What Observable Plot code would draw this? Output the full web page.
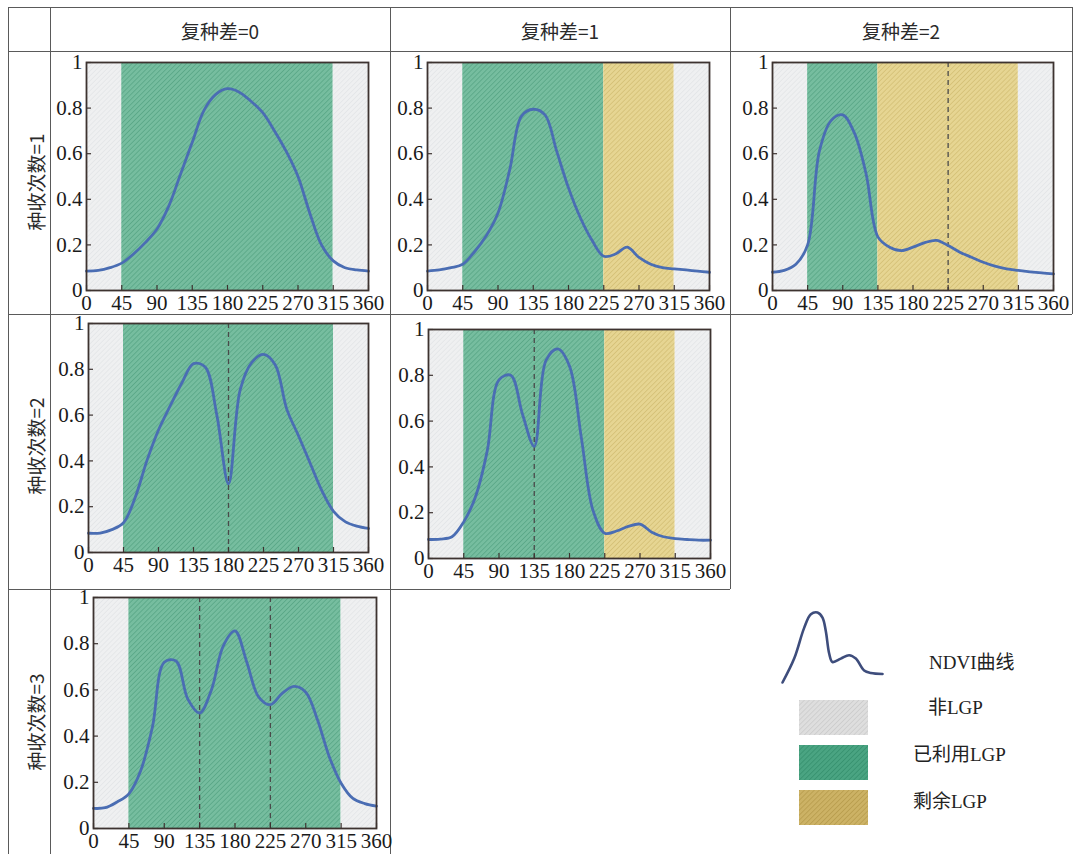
<!DOCTYPE html>
<html><head><meta charset="utf-8">
<script src="https://cdn.jsdelivr.net/npm/d3@7"></script>
<script src="https://cdn.jsdelivr.net/npm/@observablehq/plot@0.6"></script>
<style>
body{margin:0;background:#fff;}
#root{position:relative;width:1079px;height:854px;overflow:hidden;background:#fff;}
.hl,.vl{position:absolute;background:#5a5a5a;}
.hl{height:1px;} .vl{width:1px;}
.hdr{position:absolute;font-family:"Noto Sans CJK SC",sans-serif;font-size:19px;color:#2a2a2a;white-space:nowrap;transform:translate(-50%,-50%);}
.rowlab{position:absolute;font-family:"Noto Sans CJK SC",sans-serif;font-size:19px;color:#2a2a2a;white-space:nowrap;transform:translate(-50%,-50%) rotate(-90deg);}
.panel{position:absolute;}
.lg{position:absolute;font-family:"Liberation Serif","Noto Sans CJK SC",serif;font-size:19px;color:#222;white-space:nowrap;transform:translateY(-50%);}
.sw{position:absolute;width:69px;height:35px;}
</style></head><body>
<svg width="0" height="0" style="position:absolute">
<defs>
<pattern id="hatch-gray" width="3.5" height="3.5" patternUnits="userSpaceOnUse" patternTransform="rotate(45)">
<rect width="3.5" height="3.5" fill="#eff0f1"/><line x1="0" y1="0" x2="0" y2="3.5" stroke="#e0e2e4" stroke-width="1.2"/></pattern>
<pattern id="hatch-green" width="3.5" height="3.5" patternUnits="userSpaceOnUse" patternTransform="rotate(45)">
<rect width="3.5" height="3.5" fill="#76bd9f"/><line x1="0" y1="0" x2="0" y2="3.5" stroke="#4e9e7d" stroke-width="1.2"/></pattern>
<pattern id="hatch-yellow" width="3.5" height="3.5" patternUnits="userSpaceOnUse" patternTransform="rotate(45)">
<rect width="3.5" height="3.5" fill="#e6d592"/><line x1="0" y1="0" x2="0" y2="3.5" stroke="#cdb86c" stroke-width="1.2"/></pattern>
<pattern id="lg-gray" width="3.5" height="3.5" patternUnits="userSpaceOnUse" patternTransform="rotate(45)">
<rect width="3.5" height="3.5" fill="#dedede"/><line x1="0" y1="0" x2="0" y2="3.5" stroke="#c6c6c6" stroke-width="1.2"/></pattern>
<pattern id="lg-green" width="3.5" height="3.5" patternUnits="userSpaceOnUse" patternTransform="rotate(45)">
<rect width="3.5" height="3.5" fill="#4aa482"/><line x1="0" y1="0" x2="0" y2="3.5" stroke="#2f8a68" stroke-width="1.2"/></pattern>
<pattern id="lg-yellow" width="3.5" height="3.5" patternUnits="userSpaceOnUse" patternTransform="rotate(45)">
<rect width="3.5" height="3.5" fill="#ccb265"/><line x1="0" y1="0" x2="0" y2="3.5" stroke="#b19544" stroke-width="1.2"/></pattern>
</defs></svg>
<div id="root"></div>
<script>
// ---------------- data ----------------
const columnLabels = ["复种差=0", "复种差=1", "复种差=2"];
const rowLabels = ["种收次数=1", "种收次数=2", "种收次数=3"];
const xTicks = [0, 45, 90, 135, 180, 225, 270, 315, 360];
const yTicks = [0, 0.2, 0.4, 0.6, 0.8, 1];
const days = [0,15,30,45,60,75,90,105,120,135,150,165,180,195,210,225,240,255,270,285,300,315,330,345,360];

const ndvi_r1_c0 = [0.085,0.088,0.10,0.12,0.16,0.21,0.27,0.37,0.51,0.65,0.79,0.86,0.885,0.87,0.83,0.78,0.70,0.61,0.50,0.34,0.20,0.13,0.10,0.09,0.085];
const ndvi_r1_c1 = [0.085,0.09,0.10,0.115,0.17,0.24,0.34,0.53,0.765,0.795,0.77,0.61,0.45,0.32,0.22,0.15,0.16,0.19,0.145,0.115,0.10,0.095,0.09,0.085,0.08];
const ndvi_r1_c2 = [0.08,0.088,0.115,0.20,0.61,0.745,0.77,0.69,0.51,0.235,0.19,0.175,0.19,0.21,0.22,0.197,0.168,0.146,0.124,0.107,0.095,0.088,0.082,0.077,0.073];
const ndvi_r2_c0 = [0.084,0.085,0.10,0.13,0.24,0.40,0.535,0.64,0.74,0.825,0.81,0.60,0.30,0.71,0.83,0.865,0.82,0.625,0.51,0.39,0.27,0.18,0.135,0.115,0.105];
const ndvi_r2_c1 = [0.083,0.085,0.095,0.16,0.27,0.47,0.78,0.80,0.63,0.49,0.865,0.915,0.84,0.53,0.21,0.11,0.12,0.14,0.15,0.115,0.095,0.087,0.083,0.08,0.08];
const ndvi_r3_c0 = [0.087,0.09,0.115,0.15,0.25,0.44,0.72,0.725,0.56,0.50,0.60,0.79,0.855,0.72,0.57,0.536,0.585,0.615,0.59,0.47,0.31,0.196,0.13,0.108,0.097];

// LGP segments: breakpoints (days) and segment types
const lgpBreaks_r1_c0 = [0, 45, 315, 360];
const lgpTypes_r1_c0 = ["非LGP", "已利用LGP", "非LGP"];
const lgpBreaks_r1_c1 = [0, 45, 225, 315, 360];
const lgpTypes_r1_c1 = ["非LGP", "已利用LGP", "剩余LGP", "非LGP"];
const lgpBreaks_r1_c2 = [0, 45, 135, 315, 360];
const lgpTypes_r1_c2 = ["非LGP", "已利用LGP", "剩余LGP", "非LGP"];
const lgpBreaks_r2_c0 = [0, 45, 315, 360];
const lgpTypes_r2_c0 = ["非LGP", "已利用LGP", "非LGP"];
const lgpBreaks_r2_c1 = [0, 45, 225, 315, 360];
const lgpTypes_r2_c1 = ["非LGP", "已利用LGP", "剩余LGP", "非LGP"];
const lgpBreaks_r3_c0 = [0, 45, 315, 360];
const lgpTypes_r3_c0 = ["非LGP", "已利用LGP", "非LGP"];

// season boundaries (dashed lines)
const divide_r1_c0 = [];
const divide_r1_c1 = [];
const divide_r1_c2 = [225];
const divide_r2_c0 = [180];
const divide_r2_c1 = [135];
const divide_r3_c0 = [135, 225];

// legend
const legendLabels = ["NDVI曲线", "非LGP", "已利用LGP", "剩余LGP"];
const legendIconX = [0,35,65,85,105,120,130,140,150,175,200,220,245,265,300];
const legendIconY = [0,70,160,200,205,190,150,85,60,70,80,70,35,28,25];

// ---------------- layout / style ----------------
const typeFill = {"非LGP": "url(#hatch-gray)", "已利用LGP": "url(#hatch-green)", "剩余LGP": "url(#hatch-yellow)"};
const panels = [
  {v: ndvi_r1_c0, b: lgpBreaks_r1_c0, t: lgpTypes_r1_c0, d: divide_r1_c0, L: 86,  T: 62,  W: 282, H: 228},
  {v: ndvi_r1_c1, b: lgpBreaks_r1_c1, t: lgpTypes_r1_c1, d: divide_r1_c1, L: 427, T: 62,  W: 282, H: 228},
  {v: ndvi_r1_c2, b: lgpBreaks_r1_c2, t: lgpTypes_r1_c2, d: divide_r1_c2, L: 772, T: 62,  W: 281, H: 228},
  {v: ndvi_r2_c0, b: lgpBreaks_r2_c0, t: lgpTypes_r2_c0, d: divide_r2_c0, L: 88,  T: 323, W: 280, H: 229},
  {v: ndvi_r2_c1, b: lgpBreaks_r2_c1, t: lgpTypes_r2_c1, d: divide_r2_c1, L: 428, T: 329, W: 282, H: 229},
  {v: ndvi_r3_c0, b: lgpBreaks_r3_c0, t: lgpTypes_r3_c0, d: divide_r3_c0, L: 93,  T: 597, W: 283, H: 231}
];
const root = document.getElementById("root");
function el(cls, css, text) {
  const e = document.createElement("div");
  e.className = cls;
  Object.assign(e.style, css);
  if (text != null) e.textContent = text;
  root.appendChild(e);
  return e;
}
// table lines
el("hl", {left: "8px", top: "7px", width: "1064px"});
el("hl", {left: "8px", top: "51px", width: "1064px"});
el("hl", {left: "8px", top: "314px", width: "1064px"});
el("hl", {left: "8px", top: "589px", width: "722px"});
el("vl", {left: "8px", top: "7px", height: "847px"});
el("vl", {left: "50px", top: "7px", height: "847px"});
el("vl", {left: "390px", top: "7px", height: "847px"});
el("vl", {left: "730px", top: "7px", height: "582px"});
el("vl", {left: "1072px", top: "7px", height: "307px"});
// headers
const colCenters = [220, 560, 901];
columnLabels.forEach((s, i) => el("hdr", {left: colCenters[i] + "px", top: "30px"}, s));
const rowCenters = [182, 446, 722];
rowLabels.forEach((s, i) => el("rowlab", {left: "35px", top: rowCenters[i] + "px"}, s));

const mL = 44, mR = 16, mT = 8, mB = 34;
for (const p of panels) {
  const pts = days.map((d, i) => ({day: d, v: p.v[i]}));
  const segs = p.t.map((type, i) => ({start: p.b[i], end: p.b[i + 1], type}));
  const chart = Plot.plot({
    width: p.W + mL + mR, height: p.H + mT + mB,
    marginLeft: mL, marginRight: mR, marginTop: mT, marginBottom: mB,
    x: {domain: [0, 360]}, y: {domain: [0, 1]},
    style: {fontFamily: "'Liberation Serif', serif", fontSize: "21px", color: "#1a1a1a", background: "transparent", overflow: "visible"},
    marks: [
      Plot.rect(segs, {x1: "start", x2: "end", y1: 0, y2: 1, fill: d => typeFill[d.type]}),
      Plot.ruleX(p.d, {x: d => d, stroke: "#4a4a4a", strokeWidth: 1.3, strokeDasharray: "5,4"}),
      Plot.line(pts, {x: "day", y: "v", curve: "catmull-rom", stroke: "#4a6db3", strokeWidth: 2.8}),
      Plot.tickX(xTicks, {x: d => d, stroke: "#3d3330", strokeWidth: 1.2, insetTop: p.H - 5}),
      Plot.tickY(yTicks, {y: d => d, stroke: "#3d3330", strokeWidth: 1.2, insetRight: p.W - 5}),
      Plot.frame({stroke: "#3d3330", strokeWidth: 1.8}),
      Plot.axisX(xTicks, {tickSize: 0, tickPadding: 5, fontSize: 21, tickFormat: d => String(d), label: null}),
      Plot.axisY(yTicks, {tickSize: 0, tickPadding: 4, fontSize: 21, tickFormat: d => String(d), label: null})
    ]
  });
  const wrap = el("panel", {left: (p.L - mL) + "px", top: (p.T - mT) + "px"});
  wrap.appendChild(chart);
}
// legend icon curve
const icon = Plot.plot({
  width: 104, height: 74, margin: 2,
  x: {domain: [0, 300], axis: null}, y: {domain: [0, 205], axis: null},
  style: {background: "transparent", overflow: "visible"},
  marks: [Plot.line(legendIconX.map((x, i) => ({x, y: legendIconY[i]})), {x: "x", y: "y", curve: "catmull-rom", stroke: "#3e4d7c", strokeWidth: 2.6})]
});
el("panel", {left: "780px", top: "610px"}).appendChild(icon);
// legend swatches and labels
const swFills = ["url(#lg-gray)", "url(#lg-green)", "url(#lg-yellow)"];
const swTops = [700, 745, 790];
swFills.forEach((f, i) => {
  const s = el("sw", {left: "799px", top: swTops[i] + "px"});
  s.innerHTML = `<svg width="69" height="35"><rect width="69" height="35" fill="${f}"/></svg>`;
});
const lgPos = [[929, 660], [928, 705], [913, 752], [913, 799]];
legendLabels.forEach((s, i) => el("lg", {left: lgPos[i][0] + "px", top: lgPos[i][1] + "px"}, s));
</script>
</body></html>
